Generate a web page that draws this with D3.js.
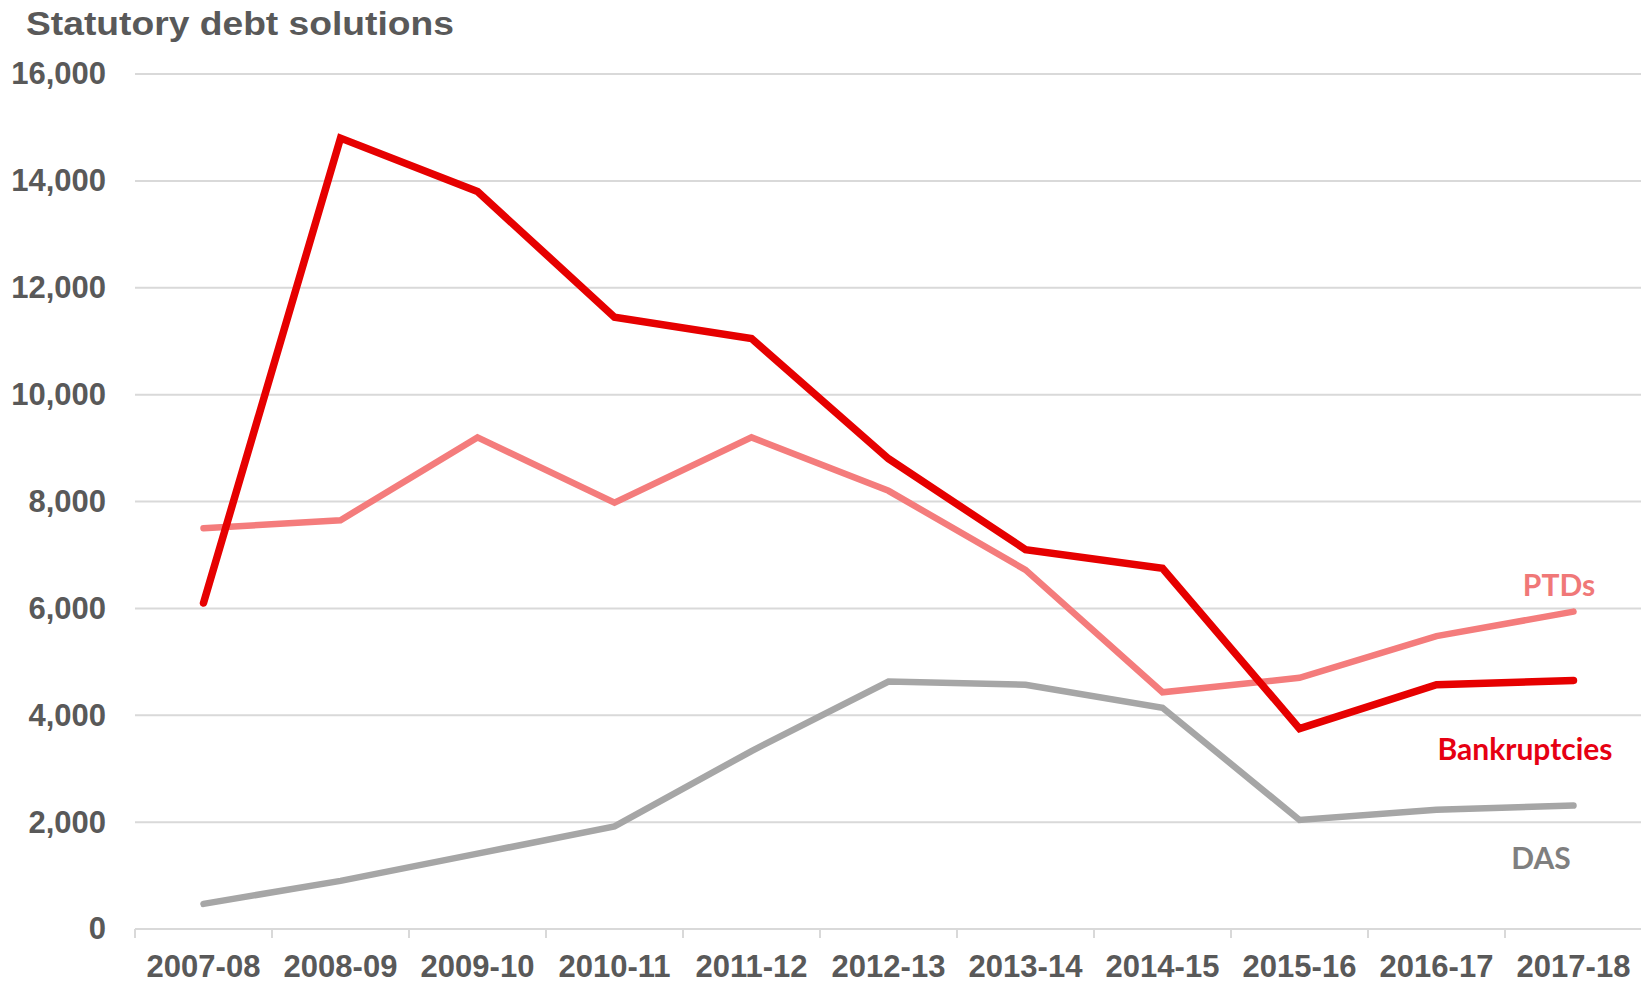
<!DOCTYPE html>
<html>
<head>
<meta charset="utf-8">
<script src="https://cdn.jsdelivr.net/npm/d3@7"></script>
<style>
  body { margin: 0; background: #fff; }
  svg { display: block; }
</style>
</head>
<body>
<div id="chart"></div>
<script>
var years = ["2007-08", "2008-09", "2009-10", "2010-11", "2011-12", "2012-13",
    "2013-14", "2014-15", "2015-16", "2016-17", "2017-18"];
var bankruptcies = [6100, 14800, 13800, 11450, 11050, 8800, 7100, 6750, 3750, 4570, 4650];
var ptds = [7500, 7650, 9200, 7980, 9200, 8200, 6720, 4430, 4700, 5480, 5940];
var das = [470, 900, 1410, 1920, 3330, 4630, 4570, 4140, 2040, 2230, 2310];
var yTicks = [0, 2000, 4000, 6000, 8000, 10000, 12000, 14000, 16000];

var svgWidth = 1641;
var svgHeight = 983;

var margin = { top: 74, right: 0, bottom: 54, left: 135 };
var width = 11 * 137;
var height = svgHeight - margin.top - margin.bottom;

var svg = d3.select("#chart")
    .append("svg")
    .attr("width", svgWidth)
    .attr("height", svgHeight);

var chartGroup = svg.append("g")
    .attr("transform", `translate(${margin.left}, ${margin.top})`);

var xScale = d3.scaleBand()
    .domain(years)
    .range([0, width]);

var yScale = d3.scaleLinear()
    .domain([0, 16000])
    .range([height, 0]);

var font = "Arial, 'Liberation Sans', sans-serif";

// gridlines
chartGroup.selectAll("line.grid")
    .data(yTicks.filter(d => d > 0))
    .enter()
    .append("line")
    .attr("class", "grid")
    .attr("x1", 0)
    .attr("x2", svgWidth - margin.left)
    .attr("y1", d => yScale(d))
    .attr("y2", d => yScale(d))
    .attr("stroke", "#d9d9d9")
    .attr("stroke-width", 2);

// y axis labels
var yAxis = d3.axisLeft(yScale)
    .tickValues(yTicks)
    .tickSize(0)
    .tickPadding(29)
    .tickFormat(d3.format(","));

chartGroup.append("g")
    .call(yAxis)
    .call(g => g.select(".domain").remove())
    .selectAll("text")
    .attr("fill", "#595959")
    .attr("font-family", font)
    .attr("font-weight", "bold")
    .attr("font-size", "31px");

// x axis with ticks on band edges
chartGroup.append("line")
    .attr("x1", 0)
    .attr("x2", svgWidth - margin.left)
    .attr("y1", height)
    .attr("y2", height)
    .attr("stroke", "#d9d9d9")
    .attr("stroke-width", 2);

chartGroup.selectAll("line.xtick")
    .data(years)
    .enter()
    .append("line")
    .attr("class", "xtick")
    .attr("x1", d => xScale(d))
    .attr("x2", d => xScale(d))
    .attr("y1", height)
    .attr("y2", height + 9)
    .attr("stroke", "#d9d9d9")
    .attr("stroke-width", 2);

chartGroup.selectAll("text.xlabel")
    .data(years)
    .enter()
    .append("text")
    .attr("class", "xlabel")
    .attr("x", d => xScale(d) + xScale.bandwidth() / 2)
    .attr("y", height + 48)
    .attr("text-anchor", "middle")
    .attr("fill", "#595959")
    .attr("font-family", font)
    .attr("font-weight", "bold")
    .attr("font-size", "31px")
    .text(d => d);

// lines
var series = [
    { name: "DAS", values: das, color: "#a6a6a6", w: 6.5 },
    { name: "PTDs", values: ptds, color: "#f47c7c", w: 6.5 },
    { name: "Bankruptcies", values: bankruptcies, color: "#e60000", w: 7.5 }
];

var line = d3.line()
    .x((d, i) => xScale(years[i]) + xScale.bandwidth() / 2)
    .y(d => yScale(d));

chartGroup.selectAll("path.series")
    .data(series)
    .enter()
    .append("path")
    .attr("class", "series")
    .attr("d", d => line(d.values))
    .attr("fill", "none")
    .attr("stroke", d => d.color)
    .attr("stroke-width", d => d.w)
    .attr("stroke-linejoin", "miter")
    .attr("stroke-linecap", "round");

// series labels
var labelFont = "Lato, 'Open Sans', sans-serif";
svg.append("text")
    .attr("x", 1559)
    .attr("y", 596)
    .attr("text-anchor", "middle")
    .attr("fill", "#f07878")
    .attr("font-family", labelFont)
    .attr("font-weight", "bold")
    .attr("font-size", "30px")
    .text("PTDs");

svg.append("text")
    .attr("x", 1525)
    .attr("y", 760)
    .attr("text-anchor", "middle")
    .attr("fill", "#e60012")
    .attr("font-family", labelFont)
    .attr("font-weight", "bold")
    .attr("font-size", "30px")
    .text("Bankruptcies");

svg.append("text")
    .attr("x", 1541)
    .attr("y", 869)
    .attr("text-anchor", "middle")
    .attr("fill", "#7f7f7f")
    .attr("font-family", labelFont)
    .attr("font-weight", "bold")
    .attr("font-size", "30px")
    .text("DAS");

// title
svg.append("text")
    .attr("x", 26)
    .attr("y", 35)
    .attr("fill", "#595959")
    .attr("font-family", font)
    .attr("font-weight", "bold")
    .attr("font-size", "33px")
    .attr("textLength", 428)
    .attr("lengthAdjust", "spacingAndGlyphs")
    .text("Statutory debt solutions");
</script>
</body>
</html>
